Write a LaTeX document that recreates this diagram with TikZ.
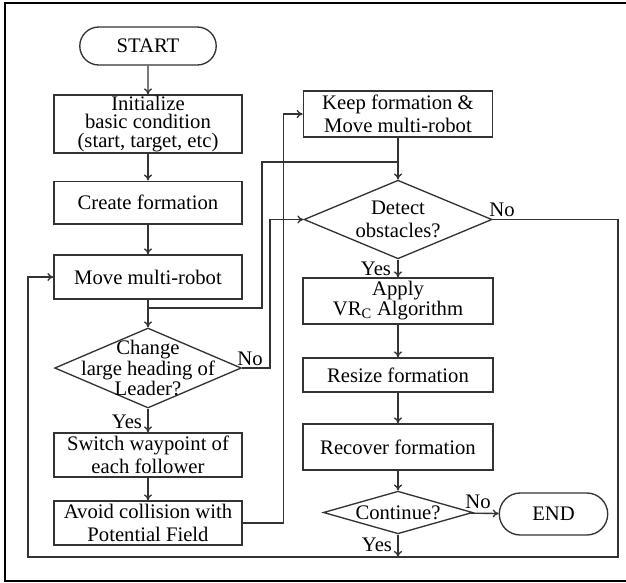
\documentclass[tikz,border=0pt]{standalone}
\usepackage{fontspec}
\setmainfont{Liberation Serif}
\usetikzlibrary{shapes.geometric,shapes.misc,arrows.meta}

\tikzset{
  proc/.style={draw=black!80, line width=1pt, minimum width=141pt, align=center, inner sep=1pt, font=\fontsize{15.5}{17}\selectfont},
  term/.style={draw=black!80, line width=1pt, rounded rectangle, font=\fontsize{15.5}{17}\selectfont},
  decision/.style={draw=black!80, line width=1pt, diamond, inner sep=0pt},
  dectext/.style={align=center, inner sep=0pt, font=\fontsize{15.5}{17}\selectfont},
  flow/.style={draw=black!80, line width=1pt},
  lbl/.style={inner sep=0pt, font=\fontsize{15.5}{17}\selectfont},
}

\begin{document}
\begin{tikzpicture}[x=0.75pt, y=-0.75pt, >={To[length=4.5pt,width=6pt]}]
\useasboundingbox (0,0) rectangle (626,583);
% frame
\draw[line width=2pt] (626,3) -- (5,3) -- (5,581) -- (626,581);

% left column
\node[term, minimum width=109pt, minimum height=28.5pt] (start) at (148,46) {START};
\node[proc, minimum height=43.5pt, inner ysep=0pt, font=\fontsize{15.5}{14}\selectfont] (init) at (148,124) {Initialize\\basic condition\\(start, target, etc)};
\node[proc, minimum height=32pt] (create) at (148,202.5) {Create formation};
\node[proc, minimum height=33pt] (move) at (148,277) {Move multi-robot};
\node[decision, minimum width=140pt, minimum height=60pt] (chg) at (148,368) {};
\node[dectext, font=\fontsize{15.5}{13}\selectfont] (chgtext) at (chg.center) {Change\\large heading of\\Leader?};
\node[proc, minimum height=33pt] (switch) at (148,455) {Switch waypoint of\\each follower};
\node[proc, minimum height=33pt] (avoid) at (148,523) {Avoid collision with\\Potential Field};

% right column
\node[proc, minimum width=142pt, minimum height=34.5pt] (keep) at (398,114) {Keep formation \&\\Move multi-robot};
\node[decision, minimum width=141pt, minimum height=59pt] (det) at (398,219.5) {};
\node[dectext] (dettext) at (det.center) {Detect\\obstacles?};
\node[proc, minimum width=142.5pt, minimum height=34.5pt, font=\fontsize{15.5}{15}\selectfont] (apply) at (398,301) {Apply\\VR\textsubscript{C} Algorithm};
\node[proc, minimum width=142.5pt, minimum height=25.5pt] (resize) at (398,375) {Resize formation};
\node[proc, minimum width=142.5pt, minimum height=34.5pt] (recover) at (398,447) {Recover formation};
\node[decision, minimum width=112pt, minimum height=32pt] (cont) at (398,512.5) {};
\node[dectext] (conttext) at (cont.center) {Continue?};
\node[term, minimum width=88pt, minimum height=31.5pt] (stop) at (553.5,514) {END};

% labels
\node[lbl] (chgno) at (250,359) {No};
\node[lbl] (chgyes) at (127,422) {Yes};
\node[lbl] (detno) at (502,210) {No};
\node[lbl] (detyes) at (376,269) {Yes};
\node[lbl] (contno) at (478,502) {No};
\node[lbl] (contyes) at (377,545) {Yes};

\coordinate (split) at (148,308);
\coordinate (merge) at (398,162);
\coordinate (loopR) at (618,557);
\coordinate (loopL) at (28,557);

% connectors
\draw[flow,->] (start) -- (init);
\draw[flow,->] (init) -- (create);
\draw[flow,->] (create) -- (move);
\draw[flow,->] (move) -- (chg);
\draw[flow,->] (chg) -- (switch);
\draw[flow,->] (switch) -- (avoid);
\draw[flow,->] (avoid.east) -- ++(41,0) |- (keep.west);
\draw[flow] (split) -| (262,162) -- (merge);
\draw[flow,->] (chg.east) -- ++(28,0) |- (det.west);
\draw[flow,->] (keep) -- (det);
\draw[flow,->] (det.east) -| (loopR) -- (loopL) |- (move.west);
\draw[flow,->] (det) -- (apply);
\draw[flow,->] (apply) -- (resize);
\draw[flow,->] (resize) -- (recover);
\draw[flow,->] (recover) -- (cont);
\draw[flow,->] (cont) -- (stop);
\draw[flow,->] (cont.south) -- (cont.south |- loopR);
\end{tikzpicture}
\end{document}
